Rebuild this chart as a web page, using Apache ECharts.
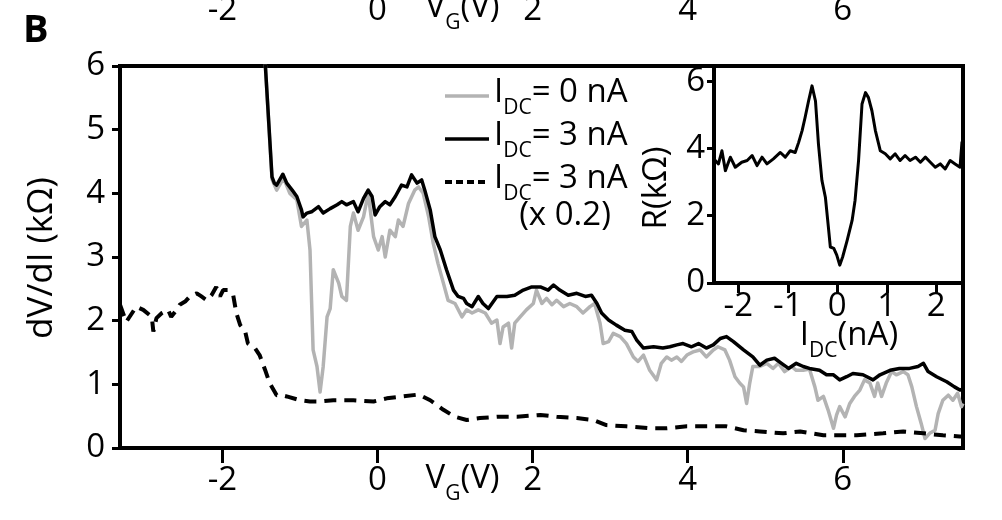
<!DOCTYPE html>
<html>
<head>
<meta charset="utf-8">
<script src="https://cdn.jsdelivr.net/npm/echarts@6/dist/echarts.min.js"></script>
<style>html,body{margin:0;padding:0;background:#fff}#c{width:1002px;height:520px}</style>
</head>
<body>
<div id="c"></div>
<script>
// ---- data ----
const xTicks = [-2, 0, 2, 4, 6];
const yTicks = [0, 1, 2, 3, 4, 5, 6];
const insetXTicks = [-2, -1, 0, 1, 2];
const insetYTicks = [0, 2, 4, 6];

// I_DC = 3 nA (solid black)
const blackV = [-1.46,-1.36,-1.33,-1.30,-1.22,-1.17,-1.10,-1.04,-0.98,-0.96,-0.91,-0.85,-0.76,-0.70,-0.61,-0.52,-0.46,-0.40,-0.31,-0.25,-0.18,-0.12,-0.07,-0.03,0.03,0.10,0.16,0.23,0.31,0.38,0.44,0.51,0.57,0.61,0.68,0.74,0.81,0.89,0.98,1.04,1.11,1.15,1.22,1.30,1.36,1.43,1.54,1.67,1.77,1.88,1.99,2.10,2.20,2.27,2.35,2.46,2.57,2.68,2.76,2.83,2.89,2.98,3.08,3.19,3.28,3.34,3.43,3.56,3.68,3.77,3.86,3.94,4.05,4.14,4.24,4.33,4.42,4.50,4.59,4.72,4.84,4.93,5.02,5.12,5.21,5.30,5.40,5.49,5.57,5.70,5.79,5.88,5.96,6.05,6.13,6.26,6.39,6.48,6.61,6.73,6.86,6.97,7.04,7.10,7.21,7.34,7.44,7.51,7.55];
const blackR = [6.3,4.26,4.16,4.13,4.30,4.16,4.05,3.95,3.74,3.63,3.69,3.71,3.79,3.69,3.76,3.82,3.87,3.82,3.87,3.71,3.92,4.05,3.95,3.66,3.79,3.87,3.82,3.95,4.13,4.10,4.29,4.16,4.21,4.05,3.74,3.32,3.11,2.80,2.48,2.38,2.35,2.27,2.22,2.38,2.27,2.19,2.38,2.38,2.40,2.48,2.53,2.53,2.48,2.56,2.48,2.40,2.43,2.38,2.40,2.27,2.12,2.01,1.93,1.85,1.83,1.70,1.57,1.59,1.57,1.59,1.62,1.64,1.59,1.64,1.57,1.62,1.72,1.75,1.67,1.54,1.43,1.30,1.38,1.41,1.33,1.25,1.33,1.28,1.25,1.22,1.15,1.15,1.07,1.12,1.17,1.15,1.07,1.15,1.22,1.25,1.25,1.28,1.33,1.20,1.12,1.04,0.96,0.91,0.93];

// I_DC = 0 nA (grey)
const greyV = [-1.46,-1.36,-1.30,-1.21,-1.13,-1.04,-0.98,-0.91,-0.87,-0.85,-0.83,-0.78,-0.74,-0.70,-0.65,-0.61,-0.57,-0.50,-0.46,-0.40,-0.35,-0.31,-0.25,-0.18,-0.12,-0.05,0.01,0.06,0.10,0.16,0.23,0.27,0.33,0.40,0.48,0.53,0.59,0.66,0.72,0.78,0.85,0.91,1.00,1.09,1.15,1.22,1.30,1.39,1.47,1.54,1.58,1.62,1.69,1.73,1.77,1.84,1.92,2.01,2.05,2.12,2.18,2.25,2.31,2.40,2.48,2.57,2.65,2.74,2.80,2.87,2.91,2.98,3.04,3.13,3.21,3.30,3.36,3.43,3.51,3.60,3.66,3.73,3.79,3.86,3.92,3.99,4.07,4.16,4.24,4.33,4.39,4.48,4.54,4.61,4.67,4.72,4.76,4.80,4.84,4.93,5.02,5.10,5.17,5.25,5.34,5.40,5.49,5.57,5.64,5.68,5.75,5.81,5.88,5.92,5.96,6.03,6.09,6.15,6.22,6.28,6.35,6.41,6.45,6.50,6.56,6.63,6.69,6.78,6.84,6.89,6.95,7.01,7.06,7.12,7.19,7.23,7.29,7.36,7.42,7.48,7.53,7.55];
const greyR = [6.3,4.22,4.05,4.24,4.00,3.90,3.48,3.58,3.11,2.32,1.54,1.28,0.88,1.28,2.06,2.19,2.80,2.59,2.38,2.32,3.48,3.69,3.42,3.63,4.00,3.32,3.11,3.32,3.00,3.42,3.32,3.58,3.48,3.84,4.05,4.10,4.00,3.63,3.21,2.90,2.59,2.32,2.27,2.06,2.17,2.12,2.17,2.12,1.96,2.01,1.64,1.90,1.96,1.57,1.96,2.06,2.17,2.27,2.48,2.27,2.35,2.25,2.32,2.22,2.27,2.22,2.12,2.22,2.27,1.96,1.64,1.67,1.80,1.75,1.64,1.43,1.36,1.46,1.22,1.07,1.33,1.43,1.38,1.43,1.36,1.46,1.51,1.54,1.43,1.54,1.59,1.54,1.38,1.12,1.02,0.96,0.70,1.02,1.28,1.28,1.33,1.25,1.33,1.20,1.28,1.22,1.22,1.24,0.96,0.75,0.81,0.60,0.31,0.52,0.65,0.49,0.70,0.81,0.91,1.07,1.02,0.81,1.02,0.81,1.02,1.20,1.15,1.20,1.15,0.96,0.65,0.39,0.15,0.23,0.28,0.54,0.75,0.83,0.75,0.86,0.65,0.70];

// I_DC = 3 nA scaled x0.2 (dashed)
const dashV = [-3.32,-3.30,-3.24,-3.11,-3.02,-2.91,-2.89,-2.85,-2.78,-2.70,-2.66,-2.59,-2.55,-2.48,-2.42,-2.33,-2.27,-2.20,-2.14,-2.08,-2.03,-1.99,-1.93,-1.86,-1.82,-1.77,-1.71,-1.67,-1.58,-1.52,-1.45,-1.39,-1.30,-1.24,-1.17,-1.00,-0.87,-0.74,-0.57,-0.31,-0.05,0.12,0.33,0.53,0.68,0.85,1.00,1.15,1.32,1.54,1.80,2.10,2.31,2.57,2.78,2.95,3.21,3.51,3.73,3.99,4.16,4.50,4.72,4.93,5.23,5.45,5.75,6.18,6.52,6.78,7.04,7.29,7.51,7.55];
const dashR = [2.25,2.22,1.98,2.22,2.17,2.06,1.83,2.04,2.12,2.17,2.06,2.17,2.25,2.30,2.38,2.43,2.38,2.32,2.40,2.53,2.38,2.48,2.48,2.40,2.12,1.93,1.85,1.64,1.57,1.46,1.23,1.02,0.83,0.83,0.81,0.75,0.73,0.73,0.75,0.75,0.73,0.78,0.81,0.84,0.75,0.60,0.49,0.44,0.47,0.49,0.49,0.52,0.49,0.47,0.44,0.36,0.34,0.31,0.31,0.34,0.34,0.34,0.28,0.26,0.23,0.26,0.20,0.20,0.23,0.26,0.23,0.20,0.18,0.18];

// inset: R vs I_DC
const insetI = [-2.50,-2.46,-2.40,-2.33,-2.26,-2.16,-2.06,-1.93,-1.82,-1.72,-1.62,-1.52,-1.42,-1.29,-1.15,-1.05,-0.95,-0.85,-0.78,-0.71,-0.65,-0.58,-0.51,-0.44,-0.38,-0.31,-0.24,-0.18,-0.14,-0.07,-0.01,0.05,0.11,0.20,0.30,0.36,0.43,0.50,0.57,0.63,0.70,0.77,0.87,0.97,1.07,1.17,1.27,1.37,1.47,1.58,1.68,1.78,1.88,1.98,2.08,2.18,2.28,2.38,2.48,2.52];
const insetR = [3.70,3.74,3.54,3.93,3.34,3.74,3.44,3.59,3.64,3.79,3.49,3.74,3.54,3.69,3.88,3.74,3.93,3.88,4.18,4.53,4.92,5.41,5.86,5.41,4.13,3.05,2.55,1.67,1.07,1.03,0.83,0.53,0.78,1.27,1.86,2.46,3.64,5.32,5.66,5.51,5.12,4.53,3.93,3.84,3.69,3.84,3.64,3.79,3.64,3.74,3.59,3.74,3.59,3.44,3.54,3.39,3.64,3.54,3.44,4.20];

const seriesNames = ['I0', 'I3', 'I3s'];
const legendTexts = {I0: '{n|I}{s|DC}{n|= 0 nA}', I3: '{n|I}{s|DC}{n|= 3 nA}', I3s: '{n|I}{s|DC}{n|= 3 nA}'};

// ---- chart ----
const F = '"Open Sans", "DejaVu Sans", sans-serif';
const FS = 33;
const zip = (a, b) => a.map((v, i) => [v, b[i]]);
const chart = echarts.init(document.getElementById('c'), null, {renderer: 'canvas'});
const lab = {color: '#000', fontFamily: F, fontSize: FS};
const richSub = {
  n: {fontFamily: F, fontSize: FS, color: '#000', lineHeight: 40, verticalAlign: 'top'},
  s: {fontFamily: F, fontSize: 21, color: '#000', lineHeight: 40, verticalAlign: 'top', padding: [22, 0, 0, 0]}
};

const option = {
  animation: false,
  backgroundColor: '#fff',
  grid: [
    {left: 120, top: 66, width: 843, height: 382, show: true, borderColor: '#000', borderWidth: 4, backgroundColor: 'transparent'},
    {left: 714, top: 66, width: 249, height: 217, show: true, borderColor: '#000', borderWidth: 4, backgroundColor: '#fff'}
  ],
  xAxis: [
    {gridIndex: 0, type: 'value', min: -3.32, max: 7.55,
     axisLine: {show: true, onZero: false, lineStyle: {color: '#000', width: 4}},
     axisTick: {show: true, customValues: xTicks, length: 15, lineStyle: {color: '#000', width: 3}},
     axisLabel: Object.assign({customValues: xTicks, margin: 16}, lab),
     splitLine: {show: false}},
    {gridIndex: 1, type: 'value', min: -2.49, max: 2.54,
     axisLine: {show: true, onZero: false, lineStyle: {color: '#000', width: 4}},
     axisTick: {show: true, customValues: insetXTicks, length: 10, lineStyle: {color: '#000', width: 3}},
     axisLabel: Object.assign({customValues: insetXTicks, margin: 7}, lab),
     splitLine: {show: false}}
  ],
  yAxis: [
    {gridIndex: 0, type: 'value', min: 0, max: 6, interval: 1,
     axisLine: {show: true, onZero: false, lineStyle: {color: '#000', width: 4}},
     axisTick: {show: true, length: 8, lineStyle: {color: '#000', width: 3}},
     axisLabel: Object.assign({margin: 15}, lab),
     splitLine: {show: false}},
    {gridIndex: 1, type: 'value', min: 0, max: 6.45,
     axisLine: {show: true, onZero: false, lineStyle: {color: '#000', width: 4}},
     axisTick: {show: true, customValues: insetYTicks, length: 7, lineStyle: {color: '#000', width: 3}},
     axisLabel: Object.assign({customValues: insetYTicks, margin: 9}, lab),
     splitLine: {show: false}}
  ],
  legend: {
    data: [{name: 'I0'}, {name: 'I3'}, {name: 'I3s', lineStyle: {type: [7, 4], width: 4}}],
    orient: 'vertical', left: 443, top: 76, padding: 0,
    itemWidth: 44, itemHeight: 14, itemGap: 0,
    itemStyle: {opacity: 0},
    lineStyle: {width: 3.5},
    formatter: name => legendTexts[name],
    textStyle: {color: '#000', fontFamily: F, fontSize: FS, rich: richSub}
  },
  series: [
    {name: 'I0', type: 'line', xAxisIndex: 0, yAxisIndex: 0, data: zip(greyV, greyR), symbol: 'none', showSymbol: false,
     lineStyle: {color: '#b3b3b3', width: 3.5, join: 'round'}, itemStyle: {color: '#b3b3b3'}, z: 2},
    {name: 'I3', type: 'line', xAxisIndex: 0, yAxisIndex: 0, data: zip(blackV, blackR), symbol: 'none', showSymbol: false,
     lineStyle: {color: '#000', width: 3.5, join: 'round'}, itemStyle: {color: '#000'}, z: 3},
    {name: 'I3s', type: 'line', xAxisIndex: 0, yAxisIndex: 0, data: zip(dashV, dashR), symbol: 'none', showSymbol: false,
     lineStyle: {color: '#000', width: 4, type: [12, 8]}, itemStyle: {color: '#000'}, z: 3},
    {name: 'inset', type: 'line', xAxisIndex: 1, yAxisIndex: 1, data: zip(insetI, insetR), symbol: 'none', showSymbol: false,
     lineStyle: {color: '#000', width: 3, join: 'round'}, itemStyle: {color: '#000'}, z: 3}
  ]
};
chart.setOption(option);

// ---- text annotations ----
const px = v => chart.convertToPixel({xAxisIndex: 0}, v);
const labelTop = 462;      // top of bottom tick labels
const shift = 471;          // panel above is cut off at the top of the picture
const vgText = '{n|V}{s|G}{n|(V)}';
const g = [];
g.push({type: 'text', left: 23, top: 12, style: {text: 'B', font: 'bold 38px ' + F, fill: '#000'}});
[0, shift].forEach(sh => {
  g.push({type: 'text', x: px(0) + 48, y: labelTop - sh, style: {text: vgText, rich: richSub, verticalAlign: 'top', fill: '#000'}});
});
xTicks.forEach(v => {
  g.push({type: 'text', x: px(v), y: labelTop + 3 - shift, style: {text: String(v), font: FS + 'px ' + F, fill: '#000', align: 'center', verticalAlign: 'top'}});
});
g.push({type: 'text', x: 42, y: 258, rotation: Math.PI / 2, style: {text: 'dV/dI (kΩ)', font: '35px ' + F, fill: '#000', align: 'center', verticalAlign: 'middle'}});
g.push({type: 'text', x: 565, y: 216, style: {text: '(x 0.2)', font: FS + 'px ' + F, fill: '#000', align: 'center', verticalAlign: 'middle'}});
g.push({type: 'text', x: 657, y: 188, rotation: Math.PI / 2, style: {text: 'R(kΩ)', font: FS + 'px ' + F, fill: '#000', align: 'center', verticalAlign: 'middle'}});
g.push({type: 'text', x: 849, y: 319, style: {text: '{n|I}{s|DC}{n|(nA)}', rich: richSub, align: 'center', verticalAlign: 'top', fill: '#000'}});
chart.setOption({graphic: g});
</script>
</body>
</html>
